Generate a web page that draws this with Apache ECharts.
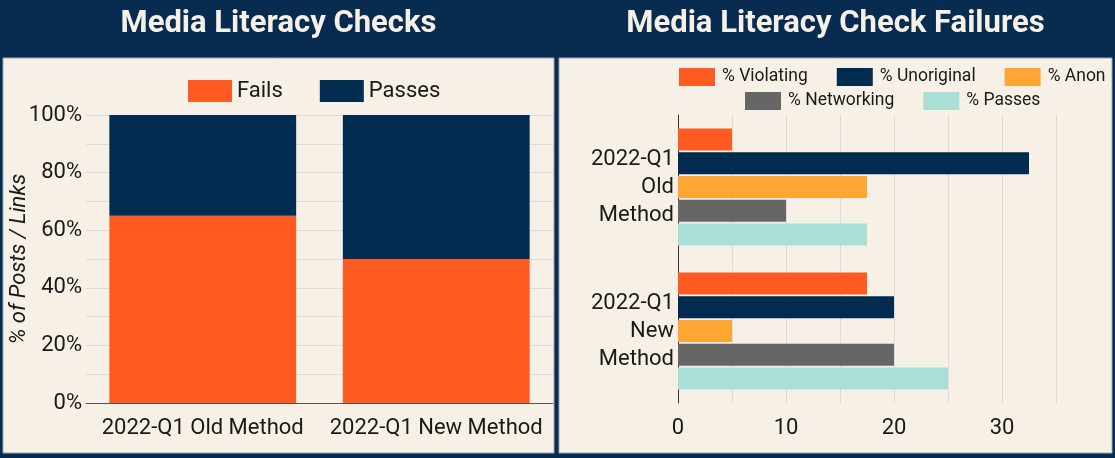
<!DOCTYPE html>
<html>
<head>
<meta charset="utf-8">
<script src="https://cdn.jsdelivr.net/npm/echarts@6/dist/echarts.min.js"></script>
<style>
html,body{margin:0;padding:0;background:#072c50;}
#c{width:1115px;height:458px;}
</style>
</head>
<body>
<div id="c"></div>
<script>
// ---- data ----
var leftCategories = ['2022-Q1 Old Method', '2022-Q1 New Method'];
var fails = [65, 50];
var passes = [35, 50];

var rightCategories = ['2022-Q1 Old Method', '2022-Q1 New Method'];
var violating = [5, 17.5];
var unoriginal = [32.5, 20];
var anon = [17.5, 5];
var networking = [10, 20];
var passesPct = [17.5, 25];

var leftTitle = 'Media Literacy Checks';
var rightTitle = 'Media Literacy Check Failures';

// ---- styles ----
var NAVY_BG = '#072c50';
var BEIGE = '#f6f0e7';
var C_ORANGE = '#fe5a22';
var C_NAVY = '#022b50';
var C_ANON = '#ffa534';
var C_GRAY = '#666666';
var C_TEAL = '#aadfd5';
var TXT = '#1a1a1a';
var FONT = 'Roboto, "Noto Sans", sans-serif';

var chart = echarts.init(document.getElementById('c'), null, {renderer: 'canvas'});

var option = {
  backgroundColor: NAVY_BG,
  textStyle: {fontFamily: FONT, color: TXT},
  animation: false,
  graphic: [
    {type: 'rect', z: -100, shape: {x: 3, y: 58, width: 551, height: 395}, style: {fill: BEIGE, stroke: '#9aa9b9', lineWidth: 1}},
    {type: 'rect', z: -100, shape: {x: 559, y: 58, width: 553, height: 395}, style: {fill: BEIGE, stroke: '#9aa9b9', lineWidth: 1}},
    {type: 'text', z: 10, x: 278.5, y: 24, style: {text: leftTitle, fill: '#f6f0e7', font: 'bold 31px ' + FONT, align: 'center', verticalAlign: 'middle', textAlign: 'center', textVerticalAlign: 'middle'}},
    {type: 'text', z: 10, x: 835.5, y: 24, style: {text: rightTitle, fill: '#f6f0e7', font: 'bold 31px ' + FONT, align: 'center', verticalAlign: 'middle', textAlign: 'center', textVerticalAlign: 'middle'}}
  ],
  legend: [
    {
      data: ['Fails', 'Passes'], left: 183, top: 75, icon: 'rect',
      itemWidth: 44, itemHeight: 22, itemGap: 37,
      textStyle: {fontSize: 22, color: TXT, fontFamily: FONT}
    },
    {
      data: ['% Violating', '% Unoriginal', '% Anon'], left: 674, top: 63, icon: 'rect',
      itemWidth: 36, itemHeight: 18, itemGap: 29,
      textStyle: {fontSize: 17.5, color: TXT, fontFamily: FONT, padding: [0, 0, 0, 2]}
    },
    {
      data: ['% Networking', '% Passes'], left: 740, top: 87, icon: 'rect',
      itemWidth: 36, itemHeight: 18, itemGap: 29,
      textStyle: {fontSize: 17.5, color: TXT, fontFamily: FONT, padding: [0, 0, 0, 2]}
    }
  ],
  grid: [
    {left: 86, top: 115, width: 467, height: 288, containLabel: false},
    {left: 678, top: 115, width: 378, height: 288, containLabel: false}
  ],
  xAxis: [
    {
      gridIndex: 0, type: 'category', data: leftCategories,
      axisLine: {show: true, lineStyle: {color: '#555', width: 1}},
      axisTick: {show: false},
      axisLabel: {fontSize: 22, color: TXT, margin: 14, interval: 0, fontFamily: FONT}
    },
    {
      gridIndex: 1, type: 'value', min: 0, max: 35, interval: 5,
      axisLine: {show: false}, axisTick: {show: false},
      splitLine: {show: true, lineStyle: {color: '#dcdcdc'}},
      axisLabel: {fontSize: 22, color: TXT, margin: 14, fontFamily: FONT,
        formatter: function (v) { return v % 10 === 0 ? String(v) : ''; }}
    }
  ],
  yAxis: [
    {
      gridIndex: 0, type: 'value', min: 0, max: 100, interval: 20,
      name: '% of Posts / Links', nameLocation: 'middle', nameGap: 56, nameMoveOverlap: false,
      nameTextStyle: {fontSize: 22, fontStyle: 'italic', color: TXT, fontFamily: FONT},
      axisLine: {show: false}, axisTick: {show: false},
      axisLabel: {fontSize: 22, color: TXT, margin: 4, formatter: '{value}%', fontFamily: FONT},
      splitLine: {show: true, lineStyle: {color: '#dcdcdc'}},
      minorTick: {show: false, splitNumber: 2},
      minorSplitLine: {show: true, lineStyle: {color: '#dcdcdc'}}
    },
    {
      gridIndex: 1, type: 'category', data: rightCategories, inverse: true,
      axisLine: {show: true, lineStyle: {color: '#333', width: 1}},
      axisTick: {show: false},
      axisLabel: {fontSize: 22, color: TXT, margin: 4, lineHeight: 28, align: 'right', fontFamily: FONT,
        formatter: function (v) { return v.split(' ').join('\n'); }}
    }
  ],
  series: [
    {name: 'Fails', type: 'bar', stack: 'l', xAxisIndex: 0, yAxisIndex: 0, data: fails, barWidth: '80%', itemStyle: {color: C_ORANGE}},
    {name: 'Passes', type: 'bar', stack: 'l', xAxisIndex: 0, yAxisIndex: 0, data: passes, barWidth: '80%', itemStyle: {color: C_NAVY}},
    {name: '% Violating', type: 'bar', xAxisIndex: 1, yAxisIndex: 1, data: violating, barWidth: 22, barGap: '8%', itemStyle: {color: C_ORANGE}},
    {name: '% Unoriginal', type: 'bar', xAxisIndex: 1, yAxisIndex: 1, data: unoriginal, barWidth: 22, barGap: '8%', itemStyle: {color: C_NAVY}},
    {name: '% Anon', type: 'bar', xAxisIndex: 1, yAxisIndex: 1, data: anon, barWidth: 22, barGap: '8%', itemStyle: {color: C_ANON}},
    {name: '% Networking', type: 'bar', xAxisIndex: 1, yAxisIndex: 1, data: networking, barWidth: 22, barGap: '8%', itemStyle: {color: C_GRAY}},
    {name: '% Passes', type: 'bar', xAxisIndex: 1, yAxisIndex: 1, data: passesPct, barWidth: 22, barGap: '8%', itemStyle: {color: C_TEAL}}
  ]
};
chart.setOption(option);
</script>
</body>
</html>
